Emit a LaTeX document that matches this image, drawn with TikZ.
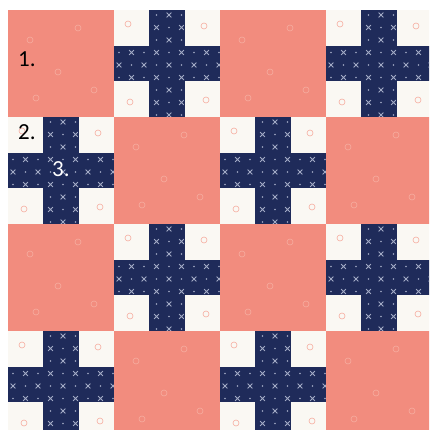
\documentclass[tikz,border=0pt]{standalone}
\usepackage{fontspec}
\setmainfont{Carlito}
\definecolor{coral}{HTML}{F28C7E}
\definecolor{navy}{HTML}{1F2B5A}
\definecolor{cream}{HTML}{FAF8F3}
\definecolor{motifgrey}{HTML}{A3ABC6}
\definecolor{ringpink}{HTML}{F6ADA0}
\begin{document}
\begin{tikzpicture}[
    x=1pt,
    y=-1pt,
    coralpatch/.style={fill=coral},
    creampatch/.style={fill=cream},
    navypatch/.style={fill=navy},
    motif/.style={draw=motifgrey, line width=0.9pt},
    speck/.style={fill=motifgrey},
    ring/.style={draw=ringpink, line width=0.6pt},
    num/.style={font=\fontsize{23}{23}\selectfont, anchor=base west, inner sep=0pt}
  ]
    % Picture is 429 x 430 px, one unit = one pixel, y pointing down.
    \useasboundingbox (0,0) rectangle (429,430);
    \clip (0,0) rectangle (429,430);
    \fill[white] (0,0) rectangle (429,430);

    % Blocks: 106 x 107, grid starts at (8,10); coral where row+col is even.
    \foreach \r in {0,...,3} {
      \foreach \c in {0,...,3} {
        \pgfmathsetmacro{\bx}{8+106*\c}
        \pgfmathsetmacro{\by}{10+107*\r}
        \pgfmathtruncatemacro{\odd}{mod(\r+\c,2)}
        \ifnum\odd=0
          \fill[coralpatch] (\bx,\by) rectangle ++(106,107);
          \foreach \dx/\dy in {22/30,70/18,50/62,86/80,28/88} {
            \draw[ring] (\bx+\dx,\by+\dy) circle (3);
          }
        \else
          \fill[creampatch] (\bx,\by) rectangle ++(106,107);
          \foreach \dx/\dy in {14/14,90/16,16/92,92/90} {
            \draw[ring] (\bx+\dx,\by+\dy) circle (3);
          }
          \fill[navypatch] (\bx+35.3,\by) rectangle ++(35.4,107);
          \fill[navypatch] (\bx,\by+35.7) rectangle ++(106,35.6);
          % Small x motifs on the navy cross.
          \begin{scope}
            \clip (\bx+35.3,\by) rectangle ++(35.4,107)
                  (\bx,\by+35.7) rectangle ++(106,35.6);
            \foreach \i in {0,...,8} {
              \foreach \j in {0,...,8} {
                \pgfmathsetmacro{\px}{\bx+5+\i*12.5}
                \pgfmathsetmacro{\py}{\by+5+\j*12.5}
                \pgfmathtruncatemacro{\alt}{mod(\i+\j,2)}
                \ifnum\alt=0
                  \draw[motif] (\px-2.4,\py-2.4) -- ++(4.8,4.8)
                               (\px-2.4,\py+2.4) -- ++(4.8,-4.8);
                \else
                  \fill[speck] (\px,\py) circle (0.8);
                \fi
              }
            }
          \end{scope}
        \fi
      }
    }

    % Labels.
    \node[num] (one) at (18,67) {1.};
    \node[num] (two) at (18,140) {2.};
    \node[num, white] (three) at (52,177) {3.};
  \end{tikzpicture}
\end{document}
